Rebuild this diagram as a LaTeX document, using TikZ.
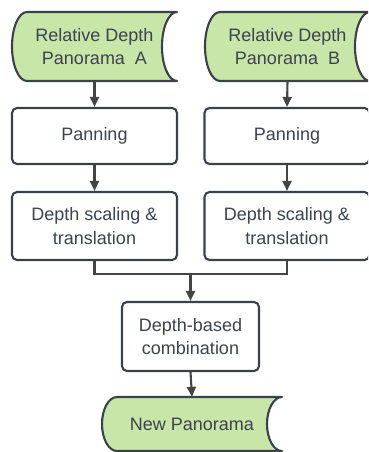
\documentclass[tikz,border=0pt]{standalone}
\usepackage{fontspec}
\setmainfont{Liberation Sans}
\usetikzlibrary{arrows.meta}
\definecolor{stroke}{HTML}{3A414A}
\definecolor{txt}{HTML}{3B4350}
\definecolor{arrowc}{HTML}{444444}
\definecolor{greenfill}{HTML}{C7E6A8}
\newcommand{\sdshape}[6]{%
  % #1 name, #2 x0, #3 y0, #4 x1, #5 y1, #6 text
  \pgfmathsetmacro{\sdmid}{(#3+#5)/2}
  \pgfmathsetmacro{\sdh}{(#3-#5)/2}
  \filldraw[sdline] (#2+15,#3) -- (#4,#3)
     arc[start angle=90, end angle=270, x radius=15pt, y radius=\sdh pt]
     -- (#2+15,#5)
     arc[start angle=270, end angle=90, x radius=15pt, y radius=\sdh pt] -- cycle;
  \node[sdtext, minimum width={(#4-#2)*1pt}, minimum height={(#3-#5)*1pt}] (#1) at ({(#2+#4)/2},\sdmid) {#6};
}
\tikzset{
  sdline/.style={draw=stroke, fill=greenfill, line width=2.1pt, line join=round},
  sdtext/.style={inner sep=0pt, text=txt, font=\fontsize{18}{23.5}\selectfont, align=center},
  procbox/.style={draw=stroke, fill=white, line width=2.1pt, rounded corners=5pt, inner sep=0pt,
     text=txt, font=\fontsize{18}{23.5}\selectfont, align=center},
  conn/.style={draw=arrowc, line width=2.1pt, -{Triangle[length=10pt,width=9pt]}},
  plain/.style={draw=arrowc, line width=2.1pt}
}
\begin{document}
\begin{tikzpicture}[x=1pt,y=1pt]
\useasboundingbox (0,0) rectangle (368,-452);
\clip (0,0) rectangle (368,-452);
\sdshape{A}{12}{-12}{177}{-81}{Relative Depth\\Panorama\ \ A}
\sdshape{B}{205}{-12}{370}{-81}{Relative Depth\\Panorama\ \ B}
\node[procbox, minimum width=165pt, minimum height=56pt] (panA) at (94.5,-136) {Panning};
\node[procbox, minimum width=165pt, minimum height=56pt] (panB) at (287,-136) {Panning};
\node[procbox, minimum width=165pt, minimum height=68pt] (dsA) at (94.5,-226) {Depth scaling \&\\translation};
\node[procbox, minimum width=165pt, minimum height=68pt] (dsB) at (287,-226) {Depth scaling \&\\translation};
\node[procbox, minimum width=137pt, minimum height=69pt] (comb) at (190.5,-336.5) {Depth-based\\combination};
\sdshape{C}{102}{-397}{282}{-451}{New Panorama}
\coordinate (j) at (190.5,-274);
\draw[conn] (A.south) -- (panA.north);
\draw[conn] (B.south) -- (panB.north);
\draw[conn] (panA.south) -- (dsA.north);
\draw[conn] (panB.south) -- (dsB.north);
\draw[plain] (dsA.south) |- (j);
\draw[plain] (dsB.south) |- (j);
\draw[conn] (j) -- (comb.north);
\draw[conn] (comb.south) -- (C.north);
\end{tikzpicture}
\end{document}
